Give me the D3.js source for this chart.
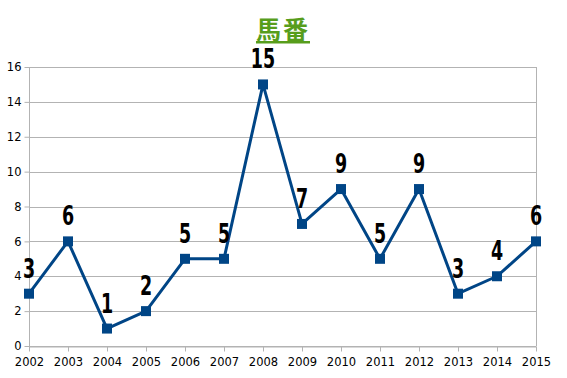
<!DOCTYPE html>
<html>
<head>
<meta charset="utf-8">
<script src="https://cdn.jsdelivr.net/npm/d3@7"></script>
<style>
  body { margin: 0; background: #fff; }
  svg { display: block; }
</style>
</head>
<body>
<div class="chartArea"></div>
<script>
const years = [2002, 2003, 2004, 2005, 2006, 2007, 2008, 2009, 2010, 2011, 2012, 2013, 2014, 2015];
const counts = [3, 6, 1, 2, 5, 5, 15, 7, 9, 5, 9, 3, 4, 6];
const yTicks = [0, 2, 4, 6, 8, 10, 12, 14, 16];
const title = "馬番";

const width = 567;
const height = 378;
const plotLeft = 29, plotRight = 536, plotTop = 67, plotBottom = 346;

const xScale = d3.scaleLinear()
    .domain([d3.min(years), d3.max(years)])
    .range([plotLeft, plotRight]);

const yScale = d3.scaleLinear()
    .domain([0, 16])
    .range([plotBottom, plotTop]);

const svg = d3.select(".chartArea")
    .append("svg")
    .attr("width", width)
    .attr("height", height);

// horizontal grid
svg.append("g")
    .selectAll("line")
    .data(yTicks)
    .enter()
    .append("line")
    .attr("x1", plotLeft)
    .attr("x2", plotRight)
    .attr("y1", d => Math.round(yScale(d)) + 0.5)
    .attr("y2", d => Math.round(yScale(d)) + 0.5)
    .attr("stroke", "#b3b3b3");

// right border
svg.append("line")
    .attr("x1", plotRight + 0.5).attr("x2", plotRight + 0.5)
    .attr("y1", plotTop).attr("y2", plotBottom)
    .attr("stroke", "#b3b3b3");

const xAxis = d3.axisBottom(xScale)
    .tickValues(years)
    .tickFormat(d3.format("d"))
    .tickSize(5)
    .tickSizeOuter(0);
const gx = svg.append("g")
    .attr("transform", "translate(0," + (Math.round(plotBottom) + 0.5) + ")")
    .call(xAxis);

const yAxis = d3.axisLeft(yScale)
    .tickValues(yTicks)
    .tickSize(5)
    .tickSizeOuter(0);
const gy = svg.append("g")
    .attr("transform", "translate(" + (plotLeft + 0.5) + ",0)")
    .call(yAxis);

[gx, gy].forEach(g => {
    g.selectAll("path, line").attr("stroke", "#b3b3b3");
    g.selectAll("text")
        .attr("fill", "#000")
        .style("font-family", "'DejaVu Sans', sans-serif")
        .style("font-size", "11.5px");
});
gx.selectAll("text").attr("dy", "1.0em");
gy.select(".domain").remove();
gy.append("line")
    .attr("y1", plotTop).attr("y2", plotBottom)
    .attr("stroke", "#b3b3b3");

const line = d3.line()
    .x((d, i) => xScale(years[i]))
    .y(d => yScale(d));

svg.append("path")
    .datum(counts)
    .attr("d", line)
    .attr("fill", "none")
    .attr("stroke", "#004586")
    .attr("stroke-width", 3)
    .attr("stroke-linejoin", "round");

svg.selectAll("rect.pt")
    .data(counts)
    .enter()
    .append("rect")
    .attr("class", "pt")
    .attr("x", (d, i) => xScale(years[i]) - 5)
    .attr("y", d => yScale(d) - 5)
    .attr("width", 10)
    .attr("height", 10)
    .attr("fill", "#004586");

svg.selectAll("text.lbl")
    .data(counts)
    .enter()
    .append("text")
    .attr("class", "lbl")
    .attr("transform", (d, i) => "translate(" + xScale(years[i]) + "," + (yScale(d) - 16) + ") scale(0.72,1)")
    .attr("text-anchor", "middle")
    .style("font-family", "'DejaVu Sans Condensed', 'DejaVu Sans', sans-serif")
    .style("font-weight", "bold")
    .style("font-size", "27px")
    .attr("fill", "#000")
    .text(d => d);

svg.append("text")
    .attr("x", 283)
    .attr("y", 39)
    .attr("text-anchor", "middle")
    .style("font-family", "'Noto Sans CJK JP', sans-serif")
    .style("font-weight", "bold")
    .style("font-size", "25px")
    .style("letter-spacing", "2px")
    .style("text-decoration", "underline")
    .attr("fill", "#579d1c")
    .text(title);
</script>
</body>
</html>
